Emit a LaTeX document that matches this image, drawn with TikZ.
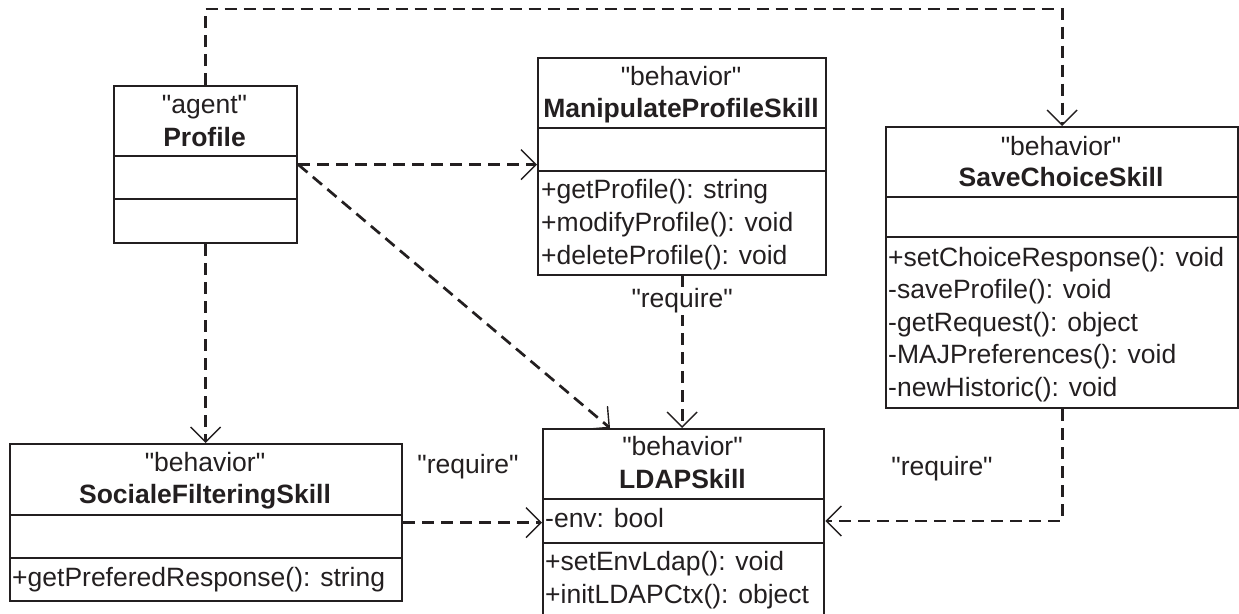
\documentclass[tikz,border=0pt]{standalone}
\usepackage{fontspec}
\setmainfont{Liberation Sans}[Ligatures=TeXOff]
\usetikzlibrary{arrows.meta,calc}
\definecolor{ink}{HTML}{231F20}
\begin{document}
\begin{tikzpicture}[x=1pt,y=-1pt,
  box/.style={draw=ink, line width=2.3pt, inner sep=0pt, anchor=north west},
  sepline/.style={draw=ink, line width=2.3pt},
  txt/.style={inner sep=0pt, anchor=base, text=ink, font=\fontsize{26.5}{33}\selectfont},
  title/.style={txt, font=\fontsize{26.5}{33}\selectfont\bfseries},
  member/.style={txt, anchor=base west},
  dep/.style={draw=ink, line width=2.7pt, dash pattern=on 12pt off 7pt,
    -{Straight Barb[length=15pt,width=30pt,line width=1.4pt]}},
  lbl/.style={txt, fill=white, inner xsep=1pt, inner ysep=2pt}
]
\useasboundingbox (0,0) rectangle (1239,613);

% ---------- Profile ----------
\node[box, minimum width=183pt, minimum height=157pt] (profile) at (113,85) {};
\draw[sepline] (113,156) -- (296,156);
\draw[sepline] (113,199) -- (296,199);
\node[txt] (profileS) at (204.5,113) {"agent"};
\node[title] (profileN) at (204.5,146) {Profile};

% ---------- ManipulateProfileSkill ----------
\node[box, minimum width=288pt, minimum height=217pt] (mps) at (537,57) {};
\draw[sepline] (537,128) -- (825,128);
\draw[sepline] (537,171) -- (825,171);
\node[txt] (mpsS) at (681,85) {"behavior"};
\node[title] (mpsN) at (681,117) {ManipulateProfileSkill};
\node[member] (mpsM1) at (541,198) {+getProfile(): string};
\node[member] (mpsM2) at (541,231) {+modifyProfile(): void};
\node[member] (mpsM3) at (541,264) {+deleteProfile(): void};

% ---------- SaveChoiceSkill ----------
\node[box, minimum width=352pt, minimum height=281pt] (scs) at (885,126) {};
\draw[sepline] (885,197) -- (1237,197);
\draw[sepline] (885,237) -- (1237,237);
\node[txt] (scsS) at (1061,155) {"behavior"};
\node[title] (scsN) at (1061,186) {SaveChoiceSkill};
\node[member] (scsM1) at (888,266) {+setChoiceResponse(): void};
\node[member] (scsM2) at (888,298.5) {-saveProfile(): void};
\node[member] (scsM3) at (888,331) {-getRequest(): object};
\node[member] (scsM4) at (888,363.5) {-MAJPreferences(): void};
\node[member] (scsM5) at (888,396) {-newHistoric(): void};

% ---------- SocialeFilteringSkill ----------
\node[box, minimum width=392pt, minimum height=157pt] (sfs) at (9,443) {};
\draw[sepline] (9,515) -- (401,515);
\draw[sepline] (9,558) -- (401,558);
\node[txt] (sfsS) at (205,471) {"behavior"};
\node[title] (sfsN) at (205,503) {SocialeFilteringSkill};
\node[member] (sfsM1) at (12,586) {+getPreferedResponse(): string};

% ---------- LDAPSkill ----------
\node[box, minimum width=281pt, minimum height=192pt] (ldap) at (542,428) {};
\draw[sepline] (542,499) -- (823,499);
\draw[sepline] (542,543) -- (823,543);
\node[txt] (ldapS) at (682.5,455) {"behavior"};
\node[title] (ldapN) at (682.5,488) {LDAPSkill};
\node[member] (ldapA1) at (545,527) {-env: bool};
\node[member] (ldapM1) at (545,570) {+setEnvLdap(): void};
\node[member] (ldapM2) at (545,603) {+initLDAPCtx(): object};

\coordinate (ldapin) at ($(ldap.north west)+(68,0)$);
\coordinate (ldapenv) at ($(ldap.north east)+(0,93)$);

% ---------- labels ----------
\node[txt] (reqL) at (468,473) {"require"};
\node[txt] (reqR) at (942,475) {"require"};

% ---------- connectors ----------
\draw[dep] (profile.north) -- ++(0,-76) -| (scs.north);
\draw[dep] (profile.east) -- (profile.east -| mps.west);
\draw[dep] (profile.east) -- (ldapin);
\draw[dep] (profile.south) -- (profile.south |- sfs.north);
\draw[dep] (mps.south) -- (mps.south |- ldap.north)
  node[lbl, pos=0.208] (reqM) {"require"};
\draw[dep] (sfs.east) -- (sfs.east -| ldap.west);
\draw[dep] (scs.south) |- (ldapenv);
\end{tikzpicture}
\end{document}
